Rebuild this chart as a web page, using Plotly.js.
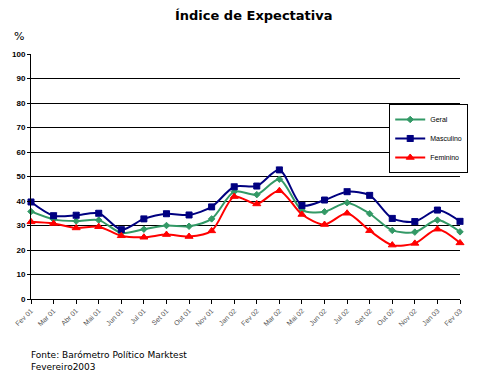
<!DOCTYPE html>
<html><head><meta charset="utf-8">
<script src="https://cdn.plot.ly/plotly-3.0.1.min.js"></script>
<style>body{margin:0;background:#fff}#c{width:488px;height:374px}</style>
</head><body><div id="c"></div>
<script>
const categories = ["Fev 01","Mar 01","Abr 01","Mai 01","Jun 01","Jul 01","Set 01","Out 01","Nov 01","Jan 02","Fev 02","Mar 02","Mai 02","Jun 02","Jul 02","Set 02","Out 02","Nov 02","Jan 03","Fev 03"];
const geral =      [35.7,32.5,31.8,32.2,27.0,28.5,30.0,29.7,32.7,43.8,42.6,48.9,36.3,35.6,39.3,34.8,28.0,27.3,32.2,27.4];
const masculino =  [39.6,34.0,34.2,35.0,28.3,32.7,34.8,34.3,37.6,45.8,46.1,52.7,38.2,40.4,43.8,42.3,32.9,31.6,36.3,31.7];
const feminino =   [31.5,30.8,29.0,29.5,25.8,25.2,26.3,25.5,27.8,41.8,38.8,44.2,34.5,30.4,35.0,27.9,22.0,22.7,28.5,22.9];
const yTicks = [0,10,20,30,40,50,60,70,80,90,100];

function tr(name, y, color, symbol, size){
  return {x: categories, y: y, name: name, type: 'scatter', mode: 'lines+markers',
    line: {color: color, width: 2, shape: 'spline', smoothing: 0.8},
    marker: {color: color, symbol: symbol, size: size, line: {color: color, width: 1}},
    cliponaxis: false};
}
const data = [
  tr('Geral', geral, '#339966', 'diamond', 5),
  tr('Masculino', masculino, '#000080', 'square-x', 6),
  tr('Feminino', feminino, '#ff0000', 'triangle-up', 7)
];
const layout = {
  width: 488, height: 374,
  margin: {l: 31, r: 28, t: 54, b: 75},
  paper_bgcolor: '#fff', plot_bgcolor: '#fff',
  title: {text: '<b>Índice de Expectativa</b>', x: 0.52, xanchor: 'center', y: 0.972, yanchor: 'top',
    font: {family: 'DejaVu Sans', size: 13, color: '#000'}},
  showlegend: true,
  legend: {x: 0.835, y: 0.796, xanchor: 'left', yanchor: 'top', bgcolor: '#fff',
    bordercolor: '#000', borderwidth: 1, font: {family: 'Arial', size: 7, color: '#000'},
    tracegroupgap: 0, itemwidth: 30},
  xaxis: {type: 'category', range: [0, 19], showgrid: false, showline: true, linecolor: '#000', linewidth: 1,
    ticks: 'outside', ticklen: 4, tickcolor: '#000', tickangle: -45,
    tickfont: {family: 'Arial', size: 7, color: '#555'}, zeroline: false, fixedrange: true},
  yaxis: {range: [0, 100], tickvals: yTicks, showgrid: true, gridcolor: '#000', gridwidth: 1,
    showline: true, linecolor: '#000', linewidth: 1, ticks: 'outside', ticklen: 3, tickcolor: '#000',
    tickfont: {family: 'Arial', size: 8, color: '#000', weight: 'bold'}, zeroline: false},
  annotations: [
    {text: '%', xref: 'paper', yref: 'paper', x: -0.045, y: 1.035, showarrow: false, xanchor: 'left', yanchor: 'bottom',
      font: {family: 'DejaVu Sans', size: 11, color: '#000'}},
    {text: 'Fonte: Barómetro Político Marktest<br>Fevereiro2003', xref: 'paper', yref: 'paper', x: -0.005, y: -0.2,
      showarrow: false, xanchor: 'left', yanchor: 'top', align: 'left',
      font: {family: 'DejaVu Sans', size: 9, color: '#000'}}
  ]
};
Plotly.newPlot('c', data, layout, {displayModeBar: false, staticPlot: true});
</script></body></html>
